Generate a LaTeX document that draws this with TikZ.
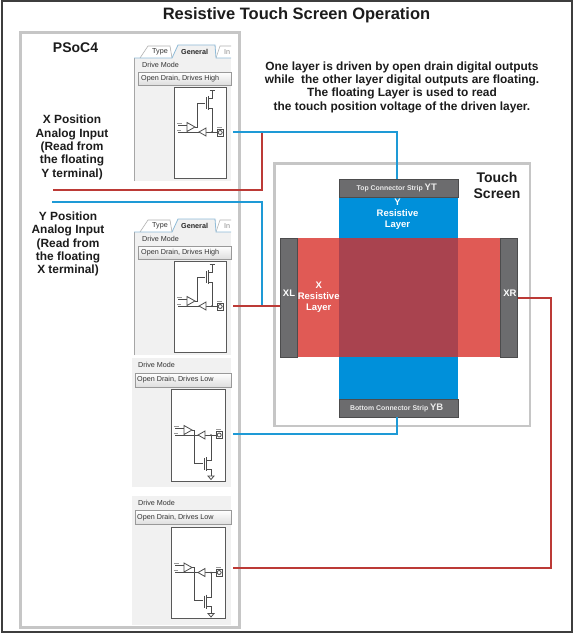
\documentclass[tikz,border=0pt]{standalone}
\usepackage{fontspec}
\setmainfont{Liberation Sans}
\definecolor{wblue}{HTML}{1E9AD6}
\definecolor{wred}{HTML}{BC3A36}
\definecolor{lblue}{HTML}{0090DA}
\definecolor{lred}{HTML}{E05A55}
\definecolor{lmix}{HTML}{A9434F}
\definecolor{sgray}{HTML}{6C6C6E}
\definecolor{fgray}{HTML}{C6C6C6}
\definecolor{pbg}{HTML}{F1F1F1}
\definecolor{tabline}{HTML}{8FBBD8}
\definecolor{ink}{HTML}{1C1C1C}
\tikzset{
  frameA/.style={draw=fgray,line width=3pt},
  frameB/.style={draw=ink!85!white,line width=2pt},
  bluew/.style={draw=wblue,line width=2pt},
  redw/.style={draw=wred,line width=2pt},
  strip/.style={fill=sgray,draw=sgray!70!black,line width=.6pt,inner sep=0pt,outer sep=0pt,text=white!92!black,font=\bfseries},
  wl/.style={text=white,align=center,font=\bfseries\fontsize{9.5}{11}\selectfont,inner sep=0pt},
  bk/.style={text=ink,align=center,font=\bfseries\fontsize{11.9}{13.3}\selectfont,inner sep=0pt},
  hd/.style={text=ink,align=center,font=\bfseries\fontsize{14}{16}\selectfont,inner sep=0pt},
  ckt/.style={draw=black!70,line width=.8pt},
  cbox/.style={draw=black!65,line width=1pt,fill=white},
  ui/.style={text=black!80,inner sep=0pt,anchor=west,font=\fontsize{7.2}{8}\selectfont},
}
% high-side panel: #1 name of pin coordinate, #2 vertical shift
\newcommand{\panelhigh}[2]{%
\begin{scope}[yshift=-#2pt]
  \fill[pbg] (134,43) rectangle (231,181);
  \draw[black!35,line width=.5pt] (134,181) -- (134,43) -- (231,43);
  \begin{scope}
    \clip (134,43) rectangle (231,60);
    \fill[white] (134,43) rectangle (231,58);
    \draw[black!30,line width=.6pt] (140,58) -- (148,46) -- (170,46) -- (172,58);
    \draw[black!30,line width=.6pt] (216,58) -- (220,46) -- (240,46);
    \fill[pbg] (172,58) -- (178,45) -- (216,45) -- (216,58) -- cycle;
    \draw[tabline,line width=.8pt] (134,58) -- (172,58) -- (178,45) -- (215,45) -- (216,58) -- (231,58);
    \node[ui] at (152,52) {Type};
    \node[ui,text=black!85,font=\bfseries\fontsize{7.2}{8}\selectfont] at (181,52) {General};
    \node[ui,text=black!45] at (224,52) {In};
  \end{scope}
  \node[ui] at (142,64.5) {Drive Mode};
  \draw[black!40,line width=.5pt,top color=white,bottom color=black!13] (138,72) rectangle (231,85);
  \node[ui] at (141,78.5) {Open Drain, Drives High};
  \draw[cbox] (174,87.5) rectangle (226,178);
  \draw[ckt] (178,125) -- (187,125);
  \draw[ckt] (178,132) -- (217,132);
  \draw[ckt,fill=white] (187,122.5) -- (195,127) -- (187,131.5) -- cycle;
  \draw[ckt,fill=white] (206,128) -- (199,132) -- (206,136) -- cycle;
  \draw[ckt] (195,127) -- (197,127) -- (197,103) -- (205,103);
  \draw[ckt,line width=1pt] (206,97) -- (206,109);
  \draw[ckt,line width=1pt] (208.5,96) -- (208.5,110);
  \draw[ckt] (208.5,98) -- (212,98) -- (212,90);
  \draw[ckt] (208.5,108) -- (212,108) -- (212,132);
  \draw[ckt] (209.5,90) -- (214.5,90);
  \fill[black!70] (212,132) circle (1pt);
  \draw[ckt] (217,129) rectangle (223.5,136);
  \draw[ckt] (220.2,132.5) circle (2pt);
  \draw[black!40,line width=.5pt] (177,123) -- (182,123) (177,130) -- (181,130) (217,127) -- (222,127);
  \coordinate (#1) at (233,132);
\end{scope}}
% low-side panel
\newcommand{\panellow}[3]{%
\begin{scope}[yshift=-#2pt]
  \fill[pbg] (132,358) rectangle (231,487);
  \node[ui] at (138,365) {Drive Mode};
  \draw[black!40,line width=.5pt,top color=white,bottom color=black!13] (135,373) rectangle (231,387);
  \node[ui] at (137,380) {Open Drain, Drives Low};
  \draw[cbox] (171,389.5) rectangle (225,481);
  \draw[ckt] (175,428) -- (184,428);
  \draw[ckt] (175,435) -- (216,435);
  \draw[ckt,fill=white] (184,425.5) -- (192,430) -- (184,434.5) -- cycle;
  \draw[ckt,fill=white] (205,431) -- (198,435) -- (205,439) -- cycle;
  \draw[ckt] (192,430) -- (194.5,430) -- (194.5,463) -- (203,463);
  \draw[ckt,line width=1pt] (204,458) -- (204,470);
  \draw[ckt,line width=1pt] (206.5,457) -- (206.5,471);
  \draw[ckt] (206.5,460) -- (211,460) -- (211,435);
  \draw[ckt] (206.5,469) -- (211,469) -- (211,476);
  \draw[ckt] (208,476) -- (214,476) -- (211,479.5) -- cycle;
  \fill[black!70] (211,435) circle (1pt);
  \draw[ckt] (216,431.5) rectangle (222.5,438.5);
  \draw[ckt] (219.2,435) circle (2pt);
  \draw[black!40,line width=.5pt] (174,426) -- (179,426) (174,433) -- (178,433) (216,429.5) -- (221,429.5);
  \coordinate (#1) at (233,#3);
\end{scope}}
\begin{document}
\begin{tikzpicture}[x=1pt,y=-1pt]
\useasboundingbox (0,0) rectangle (574,634);
\fill[white] (0,0) rectangle (574,634);
\draw[frameB] (1.5,1.5) rectangle (571.5,632);
\node[inner sep=0pt,text=ink,font=\bfseries\fontsize{16.5}{18}\selectfont] (title) at (296.5,15.5) {Resistive Touch Screen Operation};
\draw[frameA] (20.5,32.5) rectangle (239,627);
\draw[draw=fgray,line width=2.5pt] (274.5,163.5) rectangle (530,426);

\panelhigh{pinA}{0}
\panelhigh{pinB}{174}
\panellow{pinC}{0}{434}
\panellow{pinD}{137.5}{430.5}

\node[hd] (psoc) at (75.5,47.5) {PSoC4};
\node[hd] (ts) at (497,185) {Touch\\[0pt]Screen};
\node[bk] (xpos) at (72,147.5) {X Position\\Analog Input\\(Read from\\the floating\\Y terminal)};
\node[bk] (ypos) at (68,244) {Y Position\\Analog Input\\(Read from\\the floating\\X terminal)};
\node[bk] (note) at (402,87) {One layer is driven by open drain digital outputs\\while\ \ the other layer digital outputs are floating.\\The floating Layer is used to read\\the touch position voltage of the driven layer.};

% layers
\node[fill=lblue,inner sep=0pt,outer sep=0pt,minimum width=119pt,minimum height=202pt] (ylayer) at (398.7,298) {};
\node[fill=lred,inner sep=0pt,outer sep=0pt,minimum width=203pt,minimum height=119pt] (xlayer) at (398.5,297.5) {};
\node[fill=lmix,inner sep=0pt,outer sep=0pt,minimum width=119pt,minimum height=119pt] (mix) at (398.7,297.5) {};
\node[strip,minimum width=119pt,minimum height=18pt] (yt) at (398.7,188) {\fontsize{6.9}{8}\selectfont Top Connector Strip \fontsize{9.5}{10}\selectfont YT\hspace*{4pt}};
\node[strip,minimum width=119pt,minimum height=18pt] (yb) at (398.7,408) {\fontsize{6.9}{8}\selectfont Bottom Connector Strip \fontsize{9.5}{10}\selectfont YB\hspace*{4pt}};
\node[strip,minimum width=17.5pt,minimum height=119pt] (xl) at (288.7,297.5) {};
\node[strip,minimum width=17.5pt,minimum height=119pt] (xr) at (509,297.5) {};
\node[wl] (xllab) at (289,293) {XL};
\node[wl] (xrlab) at (510,293) {XR};
\node[wl] (ylab) at (397.5,214.5) {Y\\Resistive\\Layer};
\node[wl] (xlab) at (318.7,297) {X\\Resistive\\Layer};

% wires
\coordinate (redfree) at (53,190);
\coordinate (bluefree) at (52,202);
\coordinate (jA) at (262,132);
\coordinate (jB) at (262,306);
\draw[redw] (redfree) -| (jA);
\draw[bluew] (pinA) -| (yt.north -| 397,0);
\draw[bluew] (bluefree) -| (jB);
\draw[redw] (pinB) -- (xl.west |- pinB);
\draw[bluew] (yb.south -| 397,0) |- (pinC);
\coordinate (xrturn) at (551,298);
\draw[redw] (xr.east |- xrturn) -- (xrturn) |- (pinD);
\end{tikzpicture}
\end{document}
